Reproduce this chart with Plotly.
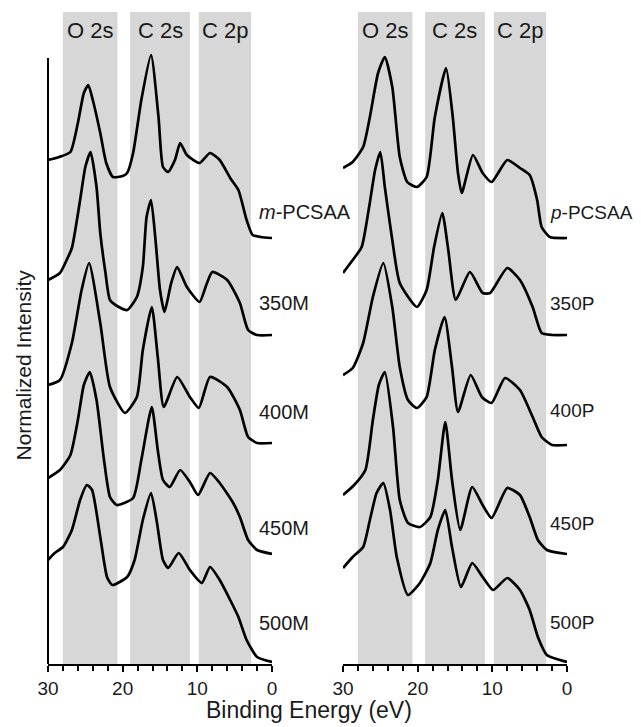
import plotly.graph_objects as go

# ---------------- data (binding energy in eV, stacked normalized intensity) -------------
m_labels = ["<i>m</i>-PCSAA", "350M", "400M", "450M", "500M"]
p_labels = ["<i>p</i>-PCSAA", "350P", "400P", "450P", "500P"]
band_names = ["O 2s", "C 2s", "C 2p"]
band_lo = [20.7, 11.0, 2.8]
band_hi = [28.0, 19.0, 9.8]

m_pcsaa_e = [30, 28.5, 27, 26, 25.2, 24.6, 24.0, 23.0, 22.2, 21.3, 20.0, 19.4, 18.6, 17.5, 16.2, 15.2, 14.6, 13.9, 13.0, 12.3, 11.4, 9.7, 8.3, 7.0, 5.6, 4.5, 3.4, 2.6, 1.5, 0]
m_pcsaa_i = [504, 507, 512, 541, 571, 579, 564, 531, 501, 487, 488, 491, 511, 564, 609, 547, 497, 492, 504, 521, 509, 501, 511, 504, 486, 474, 444, 429, 427, 426]

m350_e = [30, 28.4, 27.5, 26.8, 25.7, 25.0, 24.3, 23.5, 23.0, 22.3, 21.7, 20.5, 19.4, 18.1, 17.3, 16.8, 16.2, 15.6, 15.0, 14.4, 13.5, 12.7, 11.4, 9.7, 8.8, 8.0, 6.0, 4.3, 3.2, 2.0, 0]
m350_i = [384, 391, 404, 416, 464, 497, 512, 477, 431, 391, 364, 357, 354, 367, 397, 447, 464, 424, 374, 352, 381, 397, 377, 362, 379, 392, 384, 361, 334, 329, 329]

m400_e = [30, 28.4, 26.8, 25.5, 24.5, 23.0, 21.7, 19.7, 18.1, 17.3, 16.1, 15.3, 14.5, 12.7, 11.0, 9.8, 8.3, 6.0, 4.3, 3.2, 2.0, 0]
m400_i = [279, 284, 321, 374, 401, 341, 277, 251, 267, 314, 357, 307, 257, 287, 267, 256, 287, 277, 254, 227, 221, 221]

m450_e = [30, 28.4, 27.0, 26.0, 25.2, 24.4, 23.5, 22.5, 21.7, 20.8, 18.6, 17.5, 16.1, 15.3, 14.6, 13.7, 12.3, 11.0, 9.9, 8.3, 7.0, 5.2, 4.3, 3.2, 2.0, 0]
m450_i = [186, 194, 209, 244, 279, 292, 264, 204, 167, 159, 166, 204, 257, 214, 184, 177, 194, 182, 169, 191, 181, 161, 147, 124, 114, 110]

m500_e = [30, 29.1, 28, 26.8, 25.7, 24.8, 24.1, 23.0, 22.1, 21.4, 19.4, 18.4, 17.3, 16.2, 15.4, 14.6, 13.9, 12.5, 11.0, 9.4, 8.3, 7.0, 5.6, 4.5, 3.4, 2.0, 0]
m500_i = [104, 111, 117, 134, 164, 179, 174, 127, 87, 79, 87, 104, 144, 171, 141, 104, 96, 111, 94, 81, 97, 84, 64, 47, 24, 7, 2]

p_pcsaa_e = [30, 28.7, 27.3, 26.4, 25.3, 24.4, 23.4, 22.4, 21.4, 20.1, 18.8, 17.7, 16.2, 15.3, 14.6, 14.1, 12.6, 11.3, 10.1, 8.0, 6.3, 5.0, 4.0, 3.4, 2.3, 0]
p_pcsaa_i = [496, 502, 517, 547, 591, 607, 577, 507, 482, 477, 487, 547, 596, 547, 491, 471, 509, 491, 482, 504, 496, 489, 464, 437, 427, 426]

p350_e = [30, 28.7, 27.5, 26.5, 25.7, 25.0, 24.4, 23.4, 22.4, 20.1, 18.8, 17.8, 16.7, 15.9, 14.9, 13.0, 11.3, 10.3, 8.0, 6.3, 4.6, 3.4, 2.0, 0]
p350_i = [391, 404, 417, 457, 494, 512, 477, 424, 381, 357, 374, 417, 451, 414, 364, 392, 371, 371, 396, 384, 357, 331, 329, 329]

p400_e = [30, 28.7, 27.3, 26.0, 24.6, 23.4, 22.4, 21.3, 20.1, 18.8, 17.7, 16.4, 15.4, 14.6, 12.9, 11.4, 10.1, 8.3, 6.3, 4.6, 3.4, 2.0, 0]
p400_i = [289, 296, 321, 367, 401, 357, 297, 264, 256, 267, 314, 347, 297, 252, 289, 267, 261, 286, 274, 247, 227, 219, 219]

p450_e = [30, 28.5, 27.0, 26.0, 25.2, 24.4, 23.3, 22.4, 21.3, 19.7, 18.3, 17.3, 16.3, 15.4, 14.3, 12.7, 11.3, 10.1, 8.0, 6.3, 5.0, 3.9, 2.7, 0]
p450_i = [169, 179, 194, 244, 279, 292, 237, 164, 141, 137, 147, 184, 242, 184, 134, 177, 159, 146, 176, 169, 147, 124, 114, 110]

p500_e = [30, 28.7, 27.3, 26.4, 25.5, 24.6, 23.7, 22.8, 21.3, 19.7, 18.3, 17.3, 16.3, 15.4, 14.2, 12.7, 11.3, 9.9, 8.0, 6.3, 5.0, 3.9, 2.7, 0]
p500_i = [96, 107, 117, 144, 171, 181, 154, 107, 69, 81, 101, 134, 154, 117, 77, 101, 87, 74, 86, 74, 54, 27, 9, 2]

m_label_y = [452, 361, 252, 136, 41]
p_label_y = [452, 361, 254, 141, 42]

m_series = [(m_pcsaa_e, m_pcsaa_i), (m350_e, m350_i), (m400_e, m400_i), (m450_e, m450_i), (m500_e, m500_i)]
p_series = [(p_pcsaa_e, p_pcsaa_i), (p350_e, p350_i), (p400_e, p400_i), (p450_e, p450_i), (p500_e, p500_i)]

# ---------------- figure -------------
FONT = "Liberation Sans, Arial, sans-serif"
TXT = "#1a1a1a"
fig = go.Figure()

for xa, ya, series in (("x", "y", m_series), ("x2", "y2", p_series)):
    for e, inten in series:
        fig.add_trace(go.Scatter(x=e, y=inten, xaxis=xa, yaxis=ya, mode="lines",
                                 line=dict(color="black", width=2.7, shape="spline", smoothing=0.55),
                                 showlegend=False, hoverinfo="skip"))

shapes = []
annotations = []
for xr, yr in (("x", "y"), ("x2", "y2")):
    for lo, hi, name in zip(band_lo, band_hi, band_names):
        shapes.append(dict(type="rect", xref=xr, yref="paper", x0=lo, x1=hi, y0=0, y1=1,
                           fillcolor="#d7d7d7", line=dict(width=0), layer="below"))
        annotations.append(dict(x=(lo + hi) / 2, y=634, xref=xr, yref=yr, text=name, showarrow=False,
                                font=dict(size=22, color=TXT, family=FONT), xanchor="center", yanchor="middle"))

for lab, yv in zip(m_labels, m_label_y):
    annotations.append(dict(x=2.0, y=yv, xref="x", yref="y", text=lab, showarrow=False,
                            font=dict(size=20, color=TXT, family=FONT), xanchor="left", yanchor="middle"))
for lab, yv in zip(p_labels, p_label_y):
    annotations.append(dict(x=2.55, y=yv, xref="x2", yref="y2", text=lab, showarrow=False,
                            font=dict(size=19, color=TXT, family=FONT), xanchor="left", yanchor="middle"))

# y axis line (left panel only)
shapes.append(dict(type="line", xref="paper", yref="y", x0=0, x1=0, y0=0, y1=606,
                   line=dict(color="black", width=2)))

annotations.append(dict(x=0.503, y=-0.0706, xref="paper", yref="paper", text="Binding Energy (eV)",
                        showarrow=False, font=dict(size=23, color=TXT, family=FONT),
                        xanchor="center", yanchor="middle"))
annotations.append(dict(x=-0.048, y=0.458, xref="paper", yref="paper", text="Normalized Intensity",
                        showarrow=False, textangle=-90, font=dict(size=21, color=TXT, family=FONT),
                        xanchor="center", yanchor="middle"))

xcommon = dict(range=[30, 0], showline=True, linecolor="black", linewidth=2, ticks="outside",
               tickvals=[0, 10, 20, 30], ticklen=6, tickwidth=2, tickcolor="black",
               tickfont=dict(size=19, color=TXT, family=FONT), showgrid=False, zeroline=False,
               minor=dict(dtick=2, ticks="outside", ticklen=5, tickwidth=2, tickcolor="black", showgrid=False))
ycommon = dict(range=[0, 652], visible=False, showgrid=False, zeroline=False)

# page body has an 8px default margin, so the figure is 8px smaller than the window
fig.update_layout(
    width=633, height=719,
    margin=dict(l=40, r=74, t=4, b=63),
    paper_bgcolor="white", plot_bgcolor="rgba(0,0,0,0)",
    xaxis=dict(domain=[0, 0.4316], **xcommon),
    xaxis2=dict(domain=[0.5684, 1], anchor="y2", **xcommon),
    yaxis=dict(domain=[0, 1], anchor="x", **ycommon),
    yaxis2=dict(domain=[0, 1], anchor="x2", **ycommon),
    shapes=shapes, annotations=annotations,
)

fig.write_html("out.html")
